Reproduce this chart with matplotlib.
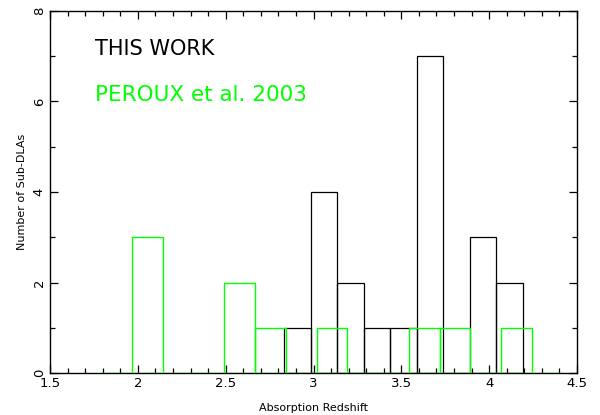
import numpy as np
import matplotlib
matplotlib.use("Agg")
import matplotlib.pyplot as plt
from matplotlib.ticker import MultipleLocator

# This work (black) histogram
this_edges = [2.832, 2.983, 3.134, 3.285, 3.436, 3.587, 3.738, 3.889, 4.040, 4.191]
this_counts = [1, 4, 2, 1, 1, 7, 0, 3, 2]

# Peroux et al. 2003 (green) histogram
peroux_edges = [1.793, 1.968, 2.143, 2.318, 2.493, 2.668, 2.843, 3.018, 3.193,
                3.368, 3.543, 3.718, 3.893, 4.068, 4.243, 4.418]
peroux_counts = [0, 3, 0, 0, 2, 1, 0, 1, 0, 0, 1, 1, 0, 1, 0]

xlabel = "Absorption Redshift"
ylabel = "Number of Sub-DLAs"
legend_texts = ["THIS WORK", "PEROUX et al. 2003"]

GREEN = "#00ff00"

fig = plt.figure(figsize=(6, 4.15), dpi=100)
ax = fig.add_axes([50/600, 42/415, 527/600, 362/415])

pe = np.array(peroux_edges)
ax.bar(pe[:-1], peroux_counts, width=np.diff(pe), align="edge", fill=False,
       edgecolor=GREEN, linewidth=1.0, zorder=3)
te = np.array(this_edges)
ax.bar(te[:-1], this_counts, width=np.diff(te), align="edge", fill=False,
       edgecolor="black", linewidth=0.9, zorder=2)

ax.set_xlim(1.5, 4.5)
ax.set_ylim(0, 8)
ax.xaxis.set_major_locator(MultipleLocator(0.5))
ax.xaxis.set_minor_locator(MultipleLocator(0.1))
ax.yaxis.set_major_locator(MultipleLocator(2))
ax.yaxis.set_minor_locator(MultipleLocator(1))
ax.xaxis.set_major_formatter(matplotlib.ticker.FuncFormatter(lambda v, p: f"{v:g}"))
ax.tick_params(which="both", direction="in", top=True, right=True,
               labelsize=9.5, width=0.9, pad=3)
ax.tick_params(which="major", length=6)
ax.tick_params(which="minor", length=3.5)
for lbl in ax.get_yticklabels():
    lbl.set_rotation(90)
    lbl.set_va("center")
for s in ax.spines.values():
    s.set_linewidth(1.0)

ax.set_xlabel(xlabel, fontsize=8, labelpad=9)
ax.set_ylabel(ylabel, fontsize=8, labelpad=4)

ax.text(0.085, 0.896, legend_texts[0], transform=ax.transAxes, fontsize=15,
        color="black", va="center", ha="left")
ax.text(0.085, 0.769, legend_texts[1], transform=ax.transAxes, fontsize=15.5,
        color=GREEN, va="center", ha="left")

fig.savefig("out.png", dpi=100)
